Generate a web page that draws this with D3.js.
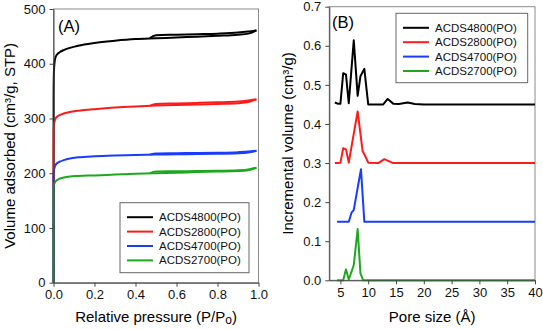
<!DOCTYPE html>
<html>
<head>
<meta charset="utf-8">
<script src="https://cdn.jsdelivr.net/npm/d3@7"></script>
<style>
  body { margin: 0; background: #fff; }
  svg { display: block; font-family: "Liberation Sans", Arial, sans-serif; }
</style>
</head>
<body>
<div id="chart"></div>
<script>
// samples and colors
const samples = ["ACDS4800(PO)", "ACDS2800(PO)", "ACDS4700(PO)", "ACDS2700(PO)"];
const colors = ["#000000", "#ff1a1a", "#1a3cff", "#1ea81e"];

// (A) isotherms: adsorption branch
const pAds = [0, 0.0005, 0.002, 0.005, 0.01, 0.02, 0.03, 0.05, 0.08, 0.12, 0.2, 0.3, 0.4, 0.5, 0.6, 0.7, 0.8, 0.9, 0.95, 0.99];
const ads4800 = [0, 340, 385, 402, 412, 418, 421, 425, 429, 433, 438, 442, 445, 446.5, 448, 449.5, 451, 453, 455, 461];
const ads2800 = [0, 262, 285, 294, 300, 304, 306, 309, 312, 314, 317, 320, 322, 323.5, 324.5, 325.5, 326.5, 328, 330, 335];
const ads4700 = [0, 195, 204, 210, 215, 219, 221, 224, 227, 229, 231, 232.5, 233.5, 234, 234.5, 235, 235.5, 236.5, 238, 241];
const ads2700 = [0, 172, 178, 182, 185, 188, 190, 192, 194, 195, 196, 197.5, 199, 200, 201, 202, 203, 204, 205.5, 210];

// (A) isotherms: desorption branch
const pDes = [0.99, 0.95, 0.9, 0.8, 0.7, 0.6, 0.5, 0.47];
const des4800 = [461, 459, 457, 455, 454, 453, 452, 447];
const des2800 = [335, 333, 331, 329.5, 328.5, 327.5, 326.5, 323];
const des4700 = [241, 239.5, 238.5, 237.5, 237, 236.5, 236, 234];
const des2700 = [210, 207, 205.5, 204.5, 204, 203.5, 203, 200];

// (B) pore size distributions, plotted with vertical offsets
const offsets = [0.45, 0.30, 0.15, 0];
const pore4800 = [4.0, 4.5, 5.0, 5.5, 6.0, 6.5, 7.4, 8.1, 8.6, 9.3, 10.0, 12.7, 13.5, 14.5, 15.5, 17.1, 18.4, 20, 40];
const inc4800 = [0.005, 0.002, 0.002, 0.080, 0.076, 0.003, 0.164, 0.022, 0.072, 0.091, 0.0, 0.0, 0.014, 0.002, 0.001, 0.005, 0.001, 0, 0];
const pore2800 = [4.0, 4.5, 5.0, 5.5, 6.0, 6.5, 8.1, 9.0, 9.4, 10.0, 11.8, 12.9, 14.5, 40];
const inc2800 = [0, 0, 0.001, 0.038, 0.035, 0.001, 0.132, 0.030, 0.020, 0.001, 0, 0.010, 0, 0];
const pore4700 = [4.4, 5.0, 6.5, 7.0, 7.4, 8.7, 9.3, 40];
const inc4700 = [0, 0, 0, 0.023, 0.030, 0.134, 0, 0];
const pore2700 = [4.4, 5.5, 6.0, 6.5, 7.0, 7.4, 8.1, 8.6, 9.1, 40];
const inc2700 = [0, 0, 0.028, 0.002, 0.022, 0.039, 0.131, 0.018, 0, 0];

// tick values
const ticksAx = [0, 0.2, 0.4, 0.6, 0.8, 1.0];
const ticksAy = [0, 100, 200, 300, 400, 500];
const ticksBx = [5, 10, 15, 20, 25, 30, 35, 40];
const ticksBy = [0, 0.1, 0.2, 0.3, 0.4, 0.5, 0.6, 0.7];

const width = 543, height = 329;
const svg = d3.select("#chart").append("svg")
  .attr("width", width)
  .attr("height", height);

const ads = [ads4800, ads2800, ads4700, ads2700];
const des = [des4800, des2800, des4700, des2700];
const pores = [pore4800, pore2800, pore4700, pore2700];
const incs = [inc4800, inc2800, inc4700, inc2700];

// scales
const xA = d3.scaleLinear().domain([0, 1]).range([53.5, 258.5]);
const yA = d3.scaleLinear().domain([0, 500]).range([282.7, 9]);
const xB = d3.scaleLinear().domain([3, 40]).range([329.3, 535]);
const yB = d3.scaleLinear().domain([0, 0.7]).range([280.3, 6.7]);

function frame(x, y) {
  svg.append("rect")
    .attr("x", x.range()[0])
    .attr("y", y.range()[1])
    .attr("width", x.range()[1] - x.range()[0])
    .attr("height", y.range()[0] - y.range()[1])
    .attr("fill", "none")
    .attr("stroke", "#8a8a8a")
    .attr("stroke-width", 1);
}

function axes(x, y, tx, ty, fx, fy) {
  const gx = svg.append("g")
    .attr("transform", `translate(0,${y.range()[0]})`)
    .call(d3.axisBottom(x).tickValues(tx).tickFormat(fx).tickSize(4).tickSizeOuter(0).tickPadding(3));
  const gy = svg.append("g")
    .attr("transform", `translate(${x.range()[0]},0)`)
    .call(d3.axisLeft(y).tickValues(ty).tickFormat(fy).tickSize(4).tickSizeOuter(0).tickPadding(4));
  [gx, gy].forEach((g) => {
    g.selectAll("path, line").attr("stroke", "#444");
    g.selectAll("text")
      .attr("font-size", 13)
      .attr("font-family", "Liberation Sans, Arial, sans-serif")
      .attr("fill", "#111");
  });
}

function legend(x0, y0, w, h) {
  const g = svg.append("g").attr("transform", `translate(${x0},${y0})`);
  g.append("rect")
    .attr("width", w)
    .attr("height", h)
    .attr("fill", "#fff")
    .attr("stroke", "#666")
    .attr("stroke-width", 1);
  samples.forEach((s, i) => {
    const yy = 14.5 + i * 14.4;
    g.append("line")
      .attr("x1", 7).attr("x2", 33)
      .attr("y1", yy).attr("y2", yy)
      .attr("stroke", colors[i])
      .attr("stroke-width", 2);
    g.append("text")
      .attr("x", 39)
      .attr("y", yy + 4)
      .attr("font-size", 11.5)
      .attr("fill", "#111")
      .text(s);
  });
}

// ---- panel (A)
frame(xA, yA);

const lineA = d3.line()
  .x((d) => xA(d[0]))
  .y((d) => yA(d[1]))
  .curve(d3.curveMonotoneX);

samples.forEach((s, i) => {
  // adsorption
  svg.append("path")
    .datum(pAds.map((p, j) => [p, ads[i][j]]))
    .attr("fill", "none")
    .attr("stroke", colors[i])
    .attr("stroke-width", 2)
    .attr("d", lineA);
  // desorption
  svg.append("path")
    .datum(pDes.map((p, j) => [p, des[i][j]]).reverse())
    .attr("fill", "none")
    .attr("stroke", colors[i])
    .attr("stroke-width", 2)
    .attr("d", lineA);
});

axes(xA, yA, ticksAx, ticksAy, d3.format(".1f"), d3.format("d"));
legend(120, 202.7, 129, 70);

svg.append("text")
  .attr("x", 58)
  .attr("y", 32)
  .attr("font-size", 16.5)
  .text("(A)");

svg.append("text")
  .attr("x", (xA.range()[0] + xA.range()[1]) / 2)
  .attr("y", 322)
  .attr("text-anchor", "middle")
  .attr("font-size", 15)
  .call((t) => {
    t.append("tspan").text("Relative pressure (P/P");
    t.append("tspan").attr("font-size", 12).attr("dy", 2).text("o");
    t.append("tspan").attr("dy", -2).text(")");
  });

svg.append("text")
  .attr("transform", `translate(15,${(yA.range()[0] + yA.range()[1]) / 2}) rotate(-90)`)
  .attr("text-anchor", "middle")
  .attr("font-size", 15)
  .text("Volume adsorbed (cm³/g, STP)");

// ---- panel (B)
frame(xB, yB);

const lineB = d3.line()
  .x((d) => xB(d[0]))
  .y((d) => yB(d[1]));

samples.forEach((s, i) => {
  svg.append("path")
    .datum(pores[i].map((p, j) => [p, incs[i][j] + offsets[i]]))
    .attr("fill", "none")
    .attr("stroke", colors[i])
    .attr("stroke-width", 2)
    .attr("stroke-linejoin", "round")
    .attr("d", lineB);
});

axes(xB, yB, ticksBx, ticksBy, d3.format("d"), d3.format(".1f"));
legend(396, 13.3, 131.7, 69.4);

svg.append("text")
  .attr("x", 332)
  .attr("y", 28)
  .attr("font-size", 16.5)
  .text("(B)");

svg.append("text")
  .attr("x", (xB.range()[0] + xB.range()[1]) / 2)
  .attr("y", 322)
  .attr("text-anchor", "middle")
  .attr("font-size", 15)
  .text("Pore size (Å)");

svg.append("text")
  .attr("transform", `translate(293,${(yB.range()[0] + yB.range()[1]) / 2}) rotate(-90)`)
  .attr("text-anchor", "middle")
  .attr("font-size", 15)
  .text("Incremental volume (cm³/g)");
</script>
</body>
</html>
